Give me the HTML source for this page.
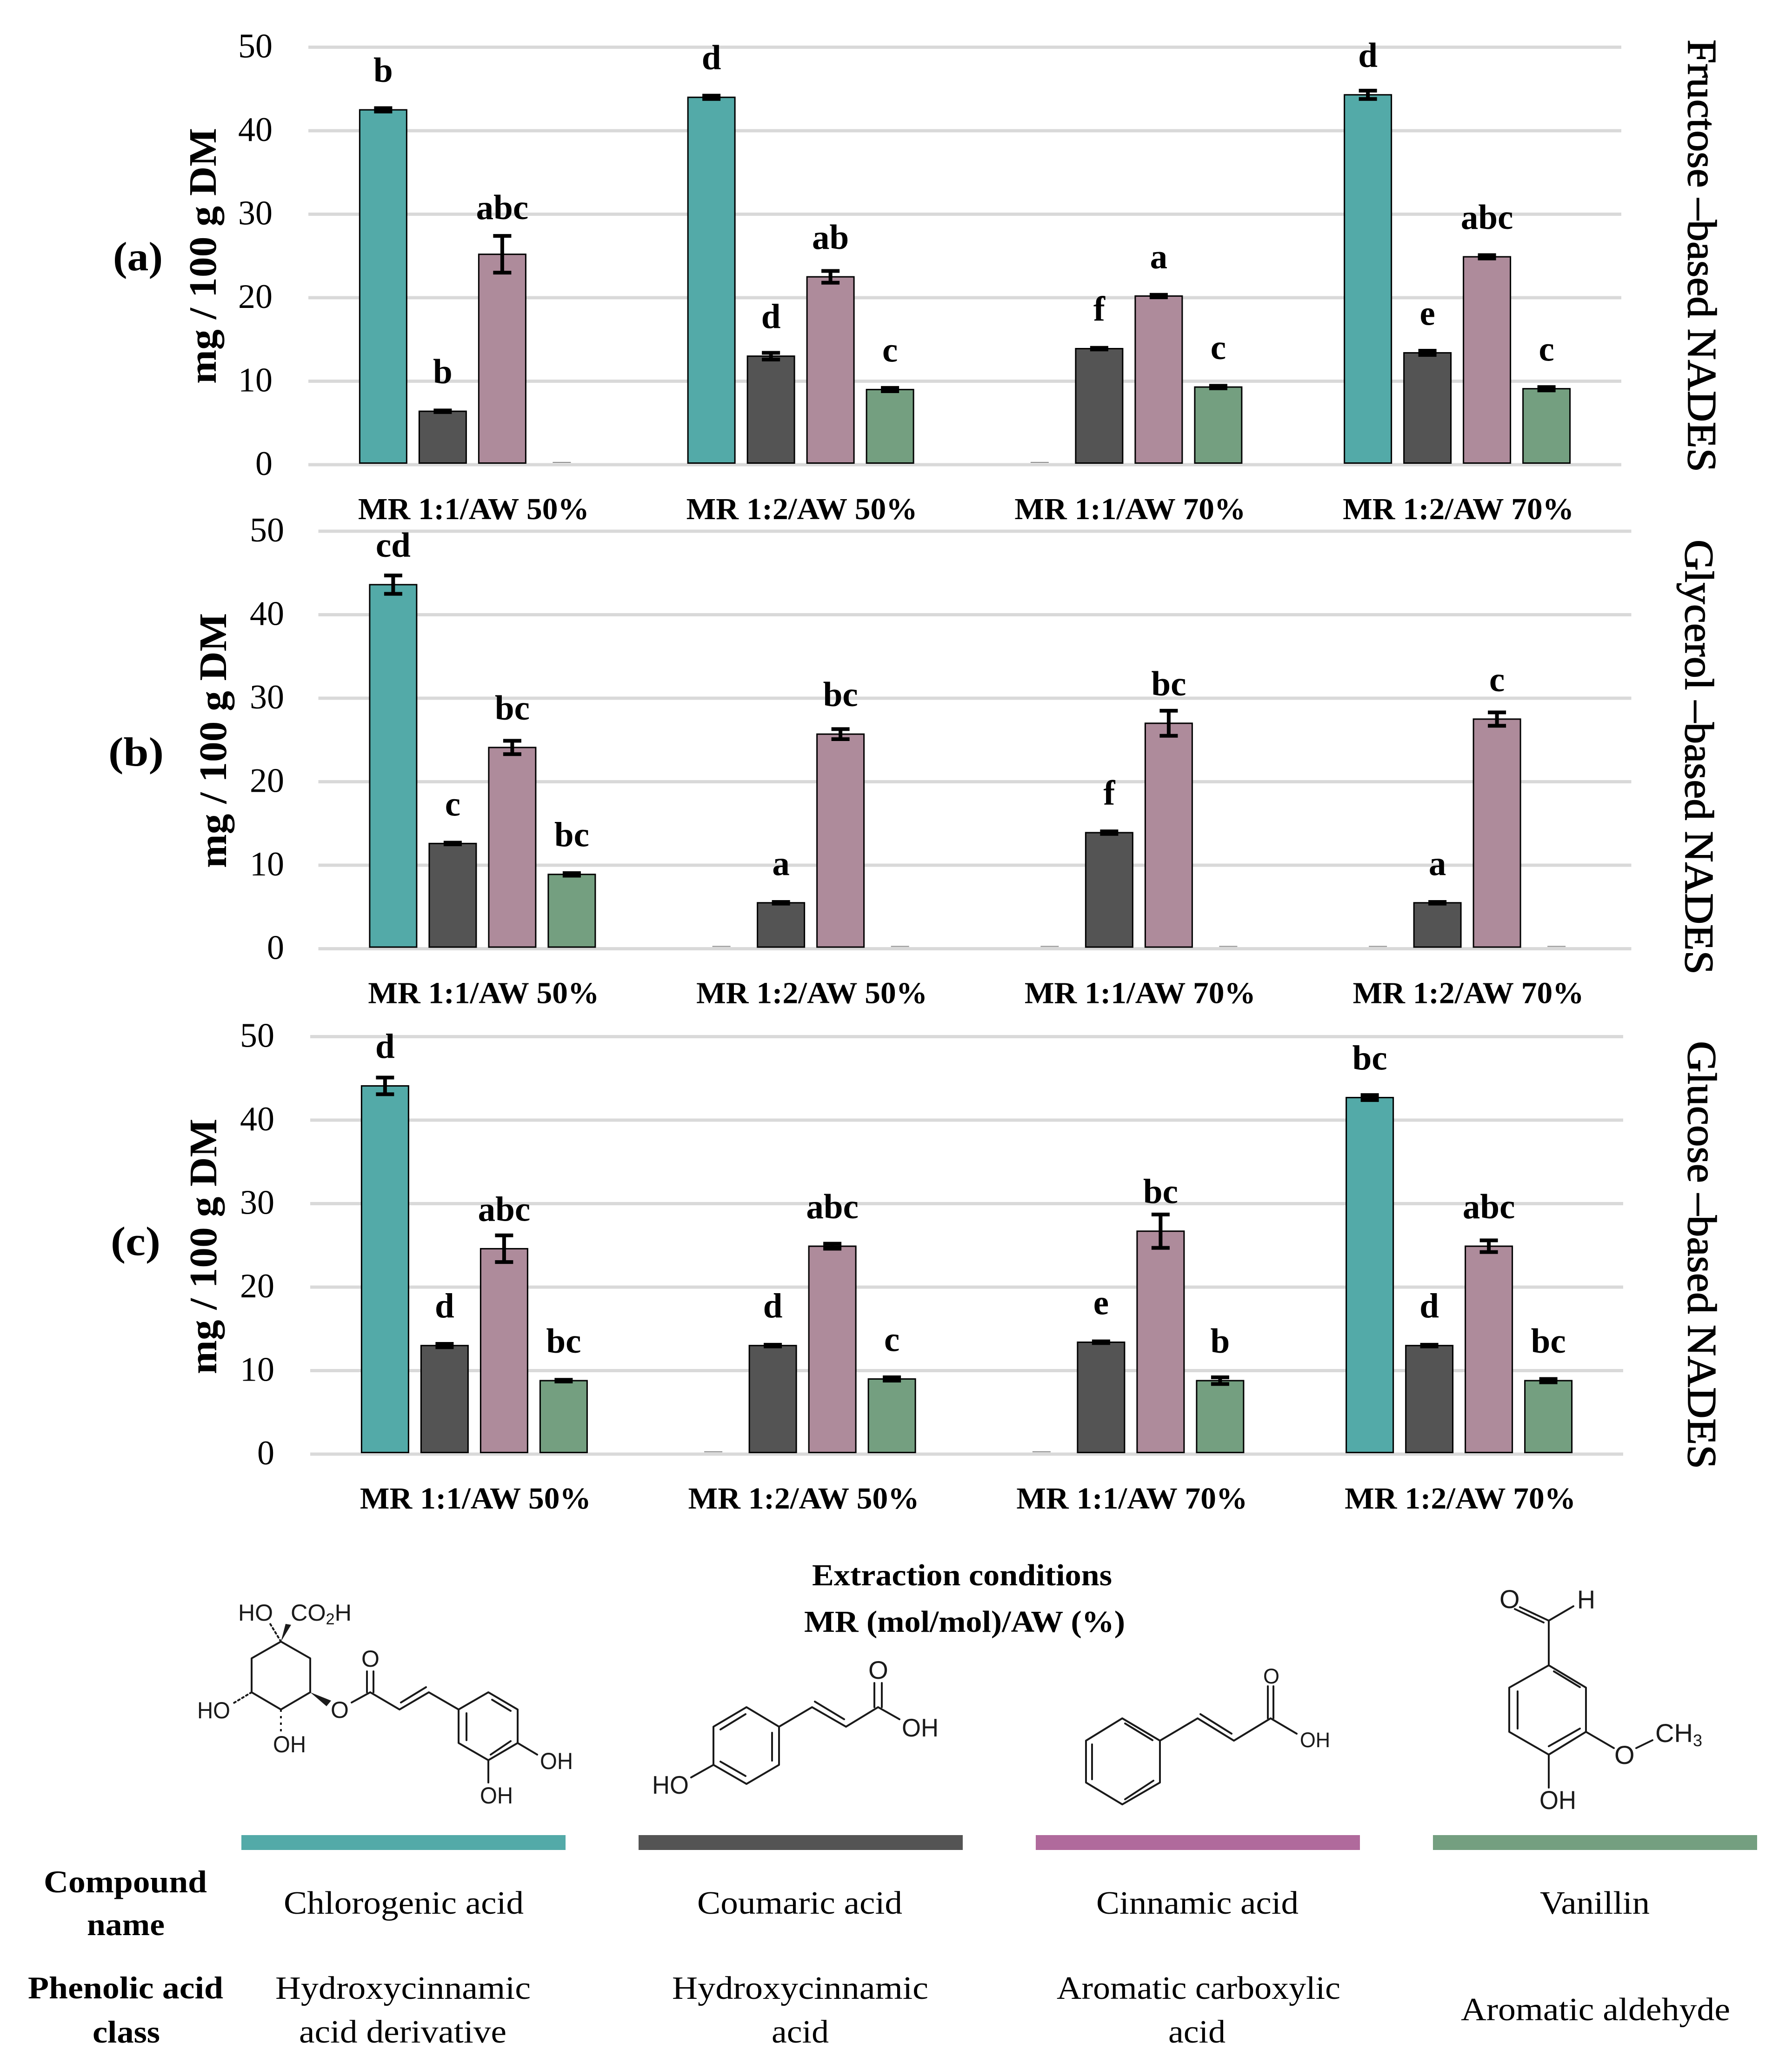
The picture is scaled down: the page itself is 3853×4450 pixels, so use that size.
<!DOCTYPE html>
<html lang="en">
<head>
<meta charset="utf-8">
<title>Phenolic compound extraction in NADES</title>
<style>
html,body{margin:0;padding:0;background:#fff;}
svg{display:block;}
text{font-family:"Liberation Serif",serif;fill:#000;}
.b{font-weight:bold;}
.tick{font-size:74px;text-anchor:end;}
.cat{font-size:66px;font-weight:bold;}
.letter{font-size:75px;font-weight:bold;text-anchor:middle;}
.ytitle{font-size:84px;font-weight:bold;}
.side{font-size:88px;stroke:#000;stroke-width:1.5px;}
.panel{font-size:88px;font-weight:bold;}
.row{font-size:68px;font-weight:bold;}
.cell{font-size:70px;}
.chem text{font-family:"Liberation Sans",sans-serif;fill:#1a1a1a;}
.chem path{fill:none;stroke:#1a1a1a;stroke-width:4;stroke-linecap:round;stroke-linejoin:round;}
</style>
</head>
<body>
<svg id="fig" xmlns="http://www.w3.org/2000/svg" width="3853" height="4450" viewBox="0 0 3853 4450">
  <rect x="0" y="0" width="3853" height="4450" fill="#fff"/>

  <text class="panel" x="243" y="581" textLength="107" lengthAdjust="spacingAndGlyphs">(a)</text>
  <text class="panel" x="233" y="1646" textLength="119" lengthAdjust="spacingAndGlyphs">(b)</text>
  <text class="panel" x="238" y="2698" textLength="107" lengthAdjust="spacingAndGlyphs">(c)</text>

  <text class="ytitle" transform="translate(464,825) rotate(-90)" textLength="550" lengthAdjust="spacingAndGlyphs">mg / 100 g DM</text>
  <text class="ytitle" transform="translate(486,1866) rotate(-90)" textLength="548" lengthAdjust="spacingAndGlyphs">mg / 100 g DM</text>
  <text class="ytitle" transform="translate(465,2954) rotate(-90)" textLength="549" lengthAdjust="spacingAndGlyphs">mg / 100 g DM</text>

  <text class="side" transform="translate(3630,85) rotate(90)" textLength="930" lengthAdjust="spacingAndGlyphs">Fructose –based NADES</text>
  <text class="side" transform="translate(3624,1160) rotate(90)" textLength="935" lengthAdjust="spacingAndGlyphs">Glycerol –based NADES</text>
  <text class="side" transform="translate(3630,2238) rotate(90)" textLength="920" lengthAdjust="spacingAndGlyphs">Glucose –based NADES</text>

  <g id="charts"></g>

  <text class="cat" x="1746" y="3408" textLength="645" lengthAdjust="spacingAndGlyphs">Extraction conditions</text>
  <text class="cat" x="1729" y="3508" textLength="690" lengthAdjust="spacingAndGlyphs">MR (mol/mol)/AW (%)</text>

  <g class="chem">
    <path d="M604 3529L667 3565L667 3638L604 3675L541 3638L541 3565Z"/>
    <polygon points="604,3529 614,3491 626,3493" fill="#1a1a1a"/>
    <path d="M604 3529L581 3491" stroke-dasharray="4 6"/>
    <polygon points="667,3638 702,3668 712,3656" fill="#1a1a1a"/>
    <path d="M541 3638L501 3662" stroke-dasharray="4 6"/>
    <path d="M604 3675L604 3723" stroke-width="7" stroke-dasharray="5 9" style="stroke-linecap:butt"/>
    <path d="M756 3660L796 3638L859 3675L922 3638L986 3675"/>
    <path d="M789 3638L789 3593M803 3638L803 3593M862 3660L916 3627"/>
    <path d="M986 3675L1050 3638L1113 3675L1113 3747L1050 3784L986 3747Z"/>
    <path d="M1058 3654L1098 3678M1003 3683L1003 3741M1055 3772L1098 3743M1113 3747L1155 3772M1050 3784L1050 3832"/>
    <text x="512" y="3484" font-size="50" textLength="75" lengthAdjust="spacingAndGlyphs">HO</text>
    <text x="625" y="3484" font-size="50" textLength="131" lengthAdjust="spacingAndGlyphs">CO<tspan font-size="34" dy="8">2</tspan><tspan dy="-8">H</tspan></text>
    <text x="424" y="3694" font-size="50" textLength="71" lengthAdjust="spacingAndGlyphs">HO</text>
    <text x="587" y="3767" font-size="50" textLength="71" lengthAdjust="spacingAndGlyphs">OH</text>
    <text x="711" y="3693" font-size="50">O</text>
    <text x="777" y="3583" font-size="50">O</text>
    <text x="1161" y="3803" font-size="50" textLength="71" lengthAdjust="spacingAndGlyphs">OH</text>
    <text x="1032" y="3877" font-size="50" textLength="71" lengthAdjust="spacingAndGlyphs">OH</text>
  </g>

  <g class="chem">
    <path d="M1605 3670L1675 3712L1675 3794L1605 3835L1534 3794L1534 3712Z"/>
    <path d="M1549 3718L1603 3685M1660 3725L1660 3785M1549 3787L1603 3818"/>
    <path d="M1675 3712L1746 3670L1819 3712L1888 3670L1934 3696M1752 3658L1815 3696"/>
    <path d="M1880 3670L1880 3618M1896 3670L1896 3618M1534 3794L1486 3821"/>
    <text x="1867" y="3609" font-size="55">O</text>
    <text x="1939" y="3733" font-size="55" textLength="79" lengthAdjust="spacingAndGlyphs">OH</text>
    <text x="1402" y="3856" font-size="55" textLength="79" lengthAdjust="spacingAndGlyphs">HO</text>
  </g>

  <g class="chem">
    <path d="M2413 3694L2494 3742L2494 3832L2413 3879L2335 3832L2335 3742Z"/>
    <path d="M2419 3705L2478 3741M2348 3750L2348 3825M2419 3868L2480 3828"/>
    <path d="M2494 3742L2575 3694L2653 3742L2732 3694L2788 3727M2581 3685L2648 3727"/>
    <path d="M2726 3694L2726 3625M2738 3694L2738 3625"/>
    <text x="2716" y="3619" font-size="45">O</text>
    <text x="2795" y="3756" font-size="45" textLength="65" lengthAdjust="spacingAndGlyphs">OH</text>
  </g>

  <g class="chem">
    <path d="M3330 3580L3410 3628L3410 3723L3330 3772L3245 3723L3245 3628Z"/>
    <path d="M3341 3593L3397 3627M3263 3636L3263 3716M3330 3754L3397 3716"/>
    <path d="M3330 3580L3330 3484L3383 3453M3330 3484L3268 3455M3319 3488L3257 3459"/>
    <path d="M3330 3772L3330 3843M3410 3723L3470 3758M3518 3758L3553 3741"/>
    <text x="3224" y="3457" font-size="56">O</text>
    <text x="3391" y="3458" font-size="56" textLength="39" lengthAdjust="spacingAndGlyphs">H</text>
    <text x="3310" y="3889" font-size="56" textLength="79" lengthAdjust="spacingAndGlyphs">OH</text>
    <text x="3471" y="3792" font-size="56">O</text>
    <text x="3559" y="3745" font-size="56" textLength="101" lengthAdjust="spacingAndGlyphs">CH<tspan font-size="36" dy="9">3</tspan></text>
  </g>

  <rect x="519" y="3945" width="697" height="32" fill="#53aaa8"/>
  <rect x="1373" y="3945" width="697" height="32" fill="#545454"/>
  <rect x="2227" y="3945" width="697" height="32" fill="#b06a9c"/>
  <rect x="3081" y="3945" width="697" height="32" fill="#749f80"/>

  <text class="row" x="94" y="4068" textLength="351" lengthAdjust="spacingAndGlyphs">Compound</text>
  <text class="row" x="187" y="4160" textLength="167" lengthAdjust="spacingAndGlyphs">name</text>
  <text class="row" x="60" y="4296" textLength="420" lengthAdjust="spacingAndGlyphs">Phenolic acid</text>
  <text class="row" x="199" y="4391" textLength="145" lengthAdjust="spacingAndGlyphs">class</text>

  <text class="cell" x="610" y="4114" textLength="516" lengthAdjust="spacingAndGlyphs">Chlorogenic acid</text>
  <text class="cell" x="1499" y="4114" textLength="441" lengthAdjust="spacingAndGlyphs">Coumaric acid</text>
  <text class="cell" x="2357" y="4114" textLength="435" lengthAdjust="spacingAndGlyphs">Cinnamic acid</text>
  <text class="cell" x="3311" y="4114" textLength="236" lengthAdjust="spacingAndGlyphs">Vanillin</text>

  <text class="cell" x="592" y="4297" textLength="549" lengthAdjust="spacingAndGlyphs">Hydroxycinnamic</text>
  <text class="cell" x="643" y="4391" textLength="446" lengthAdjust="spacingAndGlyphs">acid derivative</text>
  <text class="cell" x="1445" y="4297" textLength="551" lengthAdjust="spacingAndGlyphs">Hydroxycinnamic</text>
  <text class="cell" x="1659" y="4391" textLength="123" lengthAdjust="spacingAndGlyphs">acid</text>
  <text class="cell" x="2272" y="4297" textLength="610" lengthAdjust="spacingAndGlyphs">Aromatic carboxylic</text>
  <text class="cell" x="2512" y="4391" textLength="123" lengthAdjust="spacingAndGlyphs">acid</text>
  <text class="cell" x="3141" y="4343" textLength="579" lengthAdjust="spacingAndGlyphs">Aromatic aldehyde</text>
</svg>
<script>
// categories and tick labels
const categories = ["MR 1:1/AW 50%", "MR 1:2/AW 50%", "MR 1:1/AW 70%", "MR 1:2/AW 70%"];
const tickLabels = [0, 10, 20, 30, 40, 50];
const compounds = ["chlorogenic", "coumaric", "cinnamic", "vanillin"];

// Panel (a) fructose-based: one array per compound, one entry per category
const fructoseChlorogenic = [42.5, 44.0, 0, 44.3];
const fructoseCoumaric = [6.4, 13.0, 13.9, 13.4];
const fructoseCinnamic = [25.2, 22.5, 20.2, 24.9];
const fructoseVanillin = [0, 9.0, 9.3, 9.1];
const fructoseChlorogenicErr = [0.2, 0.2, 0, 0.5];
const fructoseCoumaricErr = [0.1, 0.4, 0.1, 0.25];
const fructoseCinnamicErr = [2.2, 0.7, 0.15, 0.2];
const fructoseVanillinErr = [0, 0.2, 0.15, 0.2];
const fructoseChlorogenicSig = ["b", "d", "", "d"];
const fructoseCoumaricSig = ["b", "d", "f", "e"];
const fructoseCinnamicSig = ["abc", "ab", "a", "abc"];
const fructoseVanillinSig = ["", "c", "c", "c"];

// Panel (b) glycerol-based
const glycerolChlorogenic = [43.6, 0, 0, 0];
const glycerolCoumaric = [12.6, 5.5, 13.9, 5.5];
const glycerolCinnamic = [24.1, 25.7, 27.0, 27.5];
const glycerolVanillin = [8.9, 0, 0, 0];
const glycerolChlorogenicErr = [1.1, 0, 0, 0];
const glycerolCoumaricErr = [0.1, 0.1, 0.15, 0.1];
const glycerolCinnamicErr = [0.8, 0.6, 1.5, 0.8];
const glycerolVanillinErr = [0.15, 0, 0, 0];
const glycerolChlorogenicSig = ["cd", "", "", ""];
const glycerolCoumaricSig = ["c", "a", "f", "a"];
const glycerolCinnamicSig = ["bc", "bc", "bc", "c"];
const glycerolVanillinSig = ["bc", "", "", ""];

// Panel (c) glucose-based
const glucoseChlorogenic = [44.1, 0, 0, 42.7];
const glucoseCoumaric = [13.0, 13.0, 13.4, 13.0];
const glucoseCinnamic = [24.6, 24.9, 26.7, 24.9];
const glucoseVanillin = [8.8, 9.0, 8.8, 8.8];
const glucoseChlorogenicErr = [1.0, 0, 0, 0.3];
const glucoseCoumaricErr = [0.2, 0.1, 0.1, 0.1];
const glucoseCinnamicErr = [1.6, 0.3, 2.0, 0.7];
const glucoseVanillinErr = [0.1, 0.2, 0.4, 0.2];
const glucoseChlorogenicSig = ["d", "", "", "bc"];
const glucoseCoumaricSig = ["d", "d", "e", "d"];
const glucoseCinnamicSig = ["abc", "abc", "bc", "abc"];
const glucoseVanillinSig = ["bc", "c", "b", "bc"];

const SVGNS = "http://www.w3.org/2000/svg";
const chartRoot = document.getElementById("charts");
const barFill = ["#53aaa8", "#545454", "#ae8b9b", "#749f80"];
const PLOT_W = 2823, PLOT_H = 897.5, AXIS_MAX = 50;
const BAR_W = 101, BAR_STEP = 128, CAP_W = 39;

function shape(parent, tag, props) {
  const el = document.createElementNS(SVGNS, tag);
  for (const k in props) el.setAttribute(k, props[k]);
  parent.appendChild(el);
  return el;
}

function drawPanel(id, left, top, tickLeft, values, errors, letters) {
  const baseY = top + PLOT_H;
  const yScale = v => baseY - (v / AXIS_MAX) * PLOT_H;
  const groupW = PLOT_W / categories.length;
  const xScale = (g, s) => left + groupW * (g + 0.5) + BAR_STEP * (s - (compounds.length - 1) / 2);

  const panel = shape(chartRoot, "g", {});
  
  

  tickLabels.forEach(t => {
    const line = shape(panel, "line", {x1: left, x2: left + PLOT_W, y1: yScale(t), y2: yScale(t), stroke: "#d9d9d9", "stroke-width": 7});
    
    
    const label = shape(panel, "text", {x: tickLeft, y: yScale(t) + 22, class: "tick"});
    label.textContent = t;
    
    
  });

  categories.forEach((cat, g) => {
    const catLabel = shape(panel, "text", {x: xScale(g, 1.5) - 246, y: baseY + 117, class: "cat", textLength: 497, lengthAdjust: "spacingAndGlyphs"});
    catLabel.textContent = cat;
    
    

    compounds.forEach((name, s) => {
      const v = values[s][g], e = errors[s][g], sig = letters[s][g];
      const cx = xScale(g, s);
      if (v <= 0) {
        const stub = shape(panel, "line", {x1: cx - CAP_W / 2, x2: cx + CAP_W / 2, y1: baseY - 5, y2: baseY - 5, stroke: "#8a8a8a", "stroke-width": 2});
        
        
        return;
      }
      const bar = shape(panel, "rect", {x: cx - BAR_W / 2, y: yScale(v), width: BAR_W, height: baseY - 3.5 - yScale(v), fill: barFill[s], stroke: "#000", "stroke-width": 3});
      
      

      const err = shape(panel, "path", {
        d: "M" + cx + " " + yScale(v + e) + "V" + yScale(v - e) +
           "M" + (cx - CAP_W / 2) + " " + yScale(v + e) + "h" + CAP_W +
           "M" + (cx - CAP_W / 2) + " " + yScale(v - e) + "h" + CAP_W,
        fill: "none", stroke: "#000", "stroke-width": 8
      });
      
      

      if (sig) {
        const errPx = (e / AXIS_MAX) * PLOT_H;
        const lift = (id === "a" && errPx > 36) ? 14 : 0;
        const sigLabel = shape(panel, "text", {x: cx, y: yScale(v) - Math.max(60, errPx + 22) - lift, class: "letter"});
        sigLabel.textContent = sig;
        
        
      }
    });
  });
}

drawPanel("a", 663, 101.5, 586,
  [fructoseChlorogenic, fructoseCoumaric, fructoseCinnamic, fructoseVanillin],
  [fructoseChlorogenicErr, fructoseCoumaricErr, fructoseCinnamicErr, fructoseVanillinErr],
  [fructoseChlorogenicSig, fructoseCoumaricSig, fructoseCinnamicSig, fructoseVanillinSig]);
drawPanel("b", 684.5, 1142, 611,
  [glycerolChlorogenic, glycerolCoumaric, glycerolCinnamic, glycerolVanillin],
  [glycerolChlorogenicErr, glycerolCoumaricErr, glycerolCinnamicErr, glycerolVanillinErr],
  [glycerolChlorogenicSig, glycerolCoumaricSig, glycerolCinnamicSig, glycerolVanillinSig]);
drawPanel("c", 667, 2228.5, 590,
  [glucoseChlorogenic, glucoseCoumaric, glucoseCinnamic, glucoseVanillin],
  [glucoseChlorogenicErr, glucoseCoumaricErr, glucoseCinnamicErr, glucoseVanillinErr],
  [glucoseChlorogenicSig, glucoseCoumaricSig, glucoseCinnamicSig, glucoseVanillinSig]);
</script>
</body>
</html>
